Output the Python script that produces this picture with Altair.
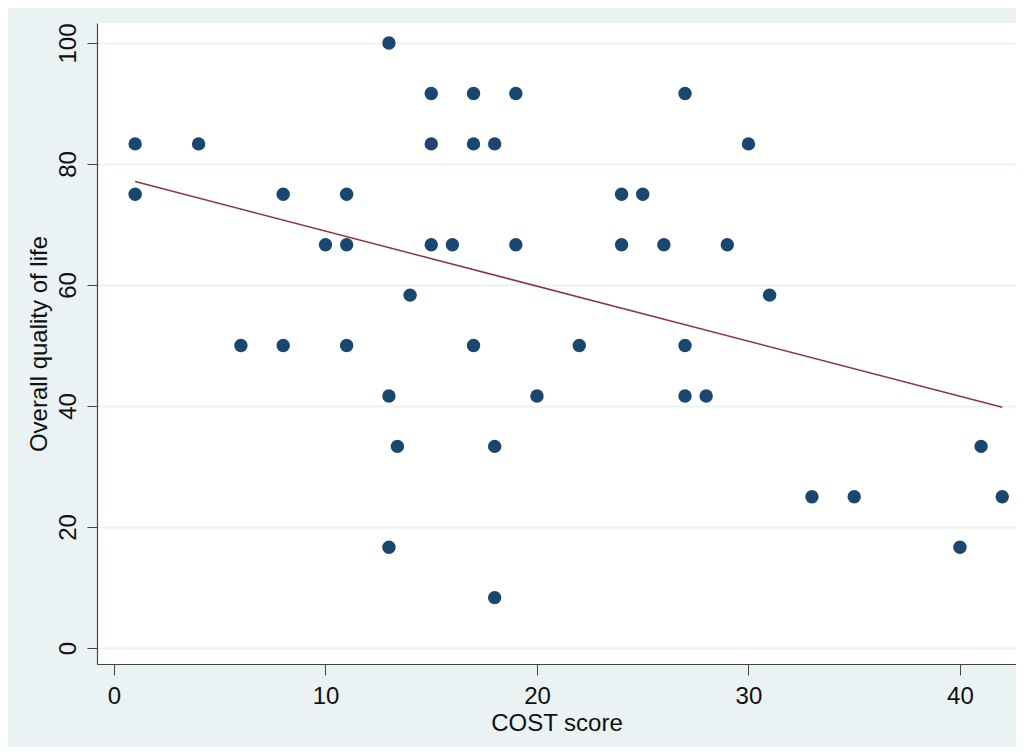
import altair as alt
import pandas as pd

cost_score = [1, 1, 4, 6, 8, 8, 10, 11, 11, 11, 13, 13, 13, 13.4, 14, 15, 15, 15, 16,
              17, 17, 17, 18, 18, 18, 19, 19, 20, 22, 24, 24, 25, 26, 27, 27, 27,
              28, 29, 30, 31, 33, 35, 40, 41, 42]
quality = [83.33, 75, 83.33, 50, 75, 50, 66.67, 75, 66.67, 50, 100, 41.67, 16.67,
           33.33, 58.33, 91.67, 83.33, 66.67, 66.67, 91.67, 83.33, 50, 83.33, 33.33,
           8.33, 91.67, 66.67, 41.67, 50, 75, 66.67, 75, 66.67, 91.67, 50, 41.67,
           41.67, 66.67, 83.33, 58.33, 25, 25, 16.67, 33.33, 25]
# fitted line (linear fit) end points
fit_cost = [1, 42]
fit_quality = [77.1, 39.8]
x_ticks = [0, 10, 20, 30, 40]
y_ticks = [0, 20, 40, 60, 80, 100]

df = pd.DataFrame({"cost": cost_score, "qol": quality})
df_fit = pd.DataFrame({"cost": fit_cost, "qol": fit_quality})

FONT = "Liberation Sans"
x_scale = alt.Scale(domain=[-0.804, 42.65], nice=False, zero=False)
y_scale = alt.Scale(domain=[-2.64, 103.31], nice=False, zero=False)

x_enc = alt.X("cost:Q", scale=x_scale, title="COST score",
              axis=alt.Axis(values=x_ticks, grid=False, tickSize=11, labelPadding=9,
                            titlePadding=3))
y_enc = alt.Y("qol:Q", scale=y_scale, title="Overall quality of life",
              axis=alt.Axis(values=y_ticks, grid=True, gridColor="#eaf2f3", gridWidth=2,
                            tickSize=10, labelAngle=270, labelAlign="center",
                            labelBaseline="bottom", labelPadding=7, titlePadding=5))

points = alt.Chart(df).mark_circle(size=180, opacity=1, color="#1a476f").encode(
    x=x_enc, y=y_enc
)

fit = alt.Chart(df_fit).mark_line(color="#90353b", strokeWidth=1.5).encode(
    x=alt.X("cost:Q", scale=x_scale), y=alt.Y("qol:Q", scale=y_scale)
)

chart = (
    alt.layer(points, fit)
    .properties(
        width=919,
        height=641,
        background="#eaf2f3",
        padding={"left": 89, "top": 15, "right": 0, "bottom": 83},
        autosize=alt.AutoSizeParams(type="none"),
    )
    .configure_view(fill="white", stroke=None)
    .configure_axis(
        domainColor="#444444",
        tickColor="#444444",
        domainWidth=1.2,
        labelFont=FONT,
        titleFont=FONT,
        labelFontSize=24,
        titleFontSize=24,
        titleFontWeight="normal",
        labelColor="#111111",
        titleColor="#111111",
    )
)

chart.save("out.html", embed_options={"renderer": "svg", "actions": False})
